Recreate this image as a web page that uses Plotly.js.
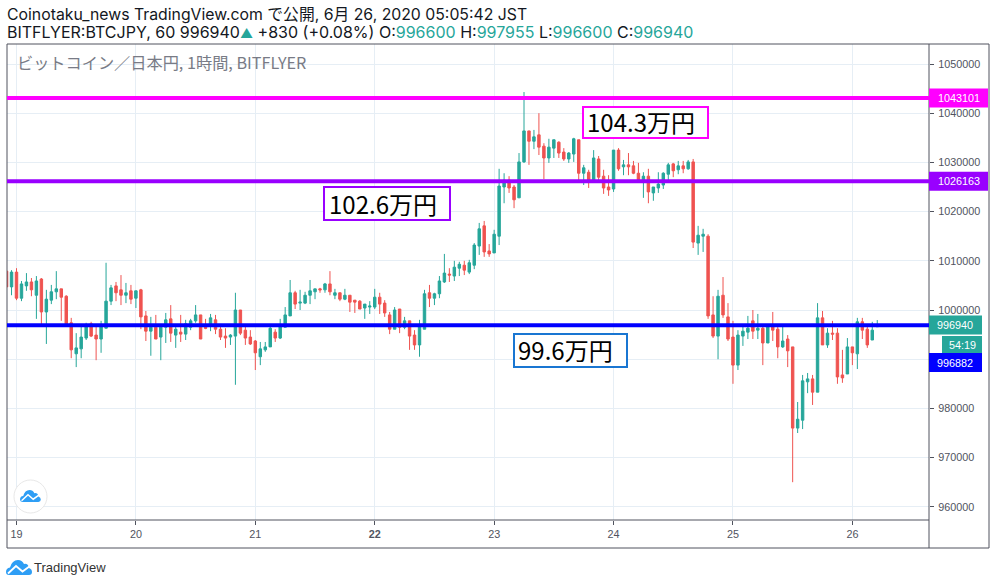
<!DOCTYPE html>
<html><head><meta charset="utf-8">
<script src="https://cdn.plot.ly/plotly-3.0.1.min.js"></script>
<style>html,body{margin:0;padding:0;background:#fff}#c{width:996px;height:586px}</style>
</head><body><div id="c"></div>
<script>
// Hourly candles, first candle is 22:00 the evening before the 19th
const opens = [1007900,1004700,1007700,1002400,1004900,1005700,1003000,1006300,999600,1002000,1003700,1004300,1002800,997400,991100,992100,994300,997200,994900,994100,996300,1001800,1004900,1004100,1003000,1003900,1002400,1004100,998800,995700,996500,994500,996500,998200,994900,995500,995100,996500,997800,999000,996500,997000,998000,996100,994700,994500,994700,1000000,995900,994500,993700,990500,991900,992500,995500,994300,996500,998800,1003500,1001400,1001400,1003000,1003700,1004300,1004100,1005300,1003000,1003500,1002200,1003000,1002000,1001800,1000400,1000600,1000600,1002600,1001400,999000,996100,1000200,996500,997800,994900,992900,996100,1003500,1002400,1003300,1005700,1007300,1006900,1008500,1009100,1007700,1009100,1013000,1017100,1012000,1011600,1015000,1025000,1026400,1025000,1022800,1030100,1036400,1034300,1035600,1033300,1030900,1032900,1034100,1032100,1030700,1031700,1034600,1027800,1028000,1026400,1030700,1027200,1025000,1024600,1032500,1029100,1029500,1029300,1027800,1026400,1027200,1023800,1024800,1025400,1027600,1029700,1028500,1029300,1028700,1030100,1013600,1015000,1015000,999000,994700,1003000,998600,994500,988800,994700,995500,997800,995900,996300,993300,996700,996100,992500,994100,992500,976000,977600,985400,986000,983300,998400,992900,995300,995300,986800,987000,992500,991100,997600,996100,993900,996600];
const highs = [1007900,1008100,1008500,1005900,1007500,1006500,1006900,1006500,1004100,1005100,1007900,1004300,1003000,998400,995300,997000,997400,997600,997000,997800,1009600,1005100,1005700,1007100,1005500,1005100,1003900,1004300,999800,998600,999000,997000,999400,1001000,997000,999000,998000,998200,1001000,999000,998200,999200,999000,997000,996300,995100,1003500,1000000,997000,995900,993900,993500,993500,996700,996100,998200,1000600,1006100,1003900,1004100,1003700,1006100,1004300,1004500,1005500,1007900,1004300,1003500,1004300,1003000,1002000,1002000,1001200,1001800,1004300,1003500,1002000,999600,1000600,1000200,998600,997800,995900,998000,1004100,1005100,1003500,1006900,1011400,1008500,1010000,1009800,1010000,1010200,1013600,1017700,1018100,1013400,1016300,1028700,1027800,1027200,1025400,1031900,1044300,1036400,1036600,1040000,1033900,1034800,1034600,1034300,1032900,1032100,1035000,1034600,1029500,1028500,1032500,1031300,1028500,1027400,1032500,1032900,1030500,1031900,1030300,1029900,1028000,1028700,1025000,1028000,1028000,1029900,1029900,1030300,1030300,1030500,1030700,1017100,1016500,1015400,1002800,1004100,1006700,1001400,997800,995900,996700,998800,1000000,999200,997000,997000,999600,997000,996700,994900,992500,981300,986800,987200,986800,1001400,999800,996300,997800,996300,991900,994300,992500,998400,998400,997000,997600,997955];
const lows = [1004700,1003000,1002000,1001800,1003900,1002800,998200,997000,993100,1001200,1002200,997800,997000,990200,988400,990200,993900,994500,989800,991300,996300,1001000,1001800,1001000,1001400,1001200,1000400,996100,993700,990700,994100,989800,993300,993500,992300,993500,993900,995900,997400,994100,996100,995700,995100,993900,992300,992900,984800,994900,992900,992900,987800,988800,991500,992500,993500,994100,996500,998800,1000200,1000000,1001200,1001200,1002200,1003500,1003500,1003000,1002200,1001800,1002000,999600,999400,1000200,998200,999200,1000200,999200,998600,995100,996100,995300,996100,991900,991900,990500,996100,1000600,1001000,1002400,1005500,1005700,1005900,1006900,1007100,1007300,1008300,1011200,1010800,1010800,1011600,1013200,1021700,1023800,1020700,1022800,1029900,1029500,1032700,1031500,1026600,1029900,1030900,1030900,1030300,1029900,1030100,1026400,1025400,1024800,1026400,1026400,1023600,1023200,1024000,1028300,1027400,1027400,1027600,1026000,1022800,1021700,1022200,1023800,1024600,1026400,1027000,1027600,1027800,1028500,1012600,1011200,1011800,998200,994300,990000,998400,993700,985000,987800,992700,994100,994100,994100,988800,993300,993700,990200,992300,988400,965000,975000,975800,983100,980700,983300,992900,992300,993900,985000,985200,987000,988800,988000,994100,992300,993900,996600];
const closes = [1004700,1007700,1002400,1005300,1005700,1004100,1005900,999600,1002200,1003700,1004300,1002600,997000,991900,992300,994500,996700,994700,994100,997000,1001800,1004500,1003500,1003000,1003500,1002200,1003900,998600,995700,996500,994100,996500,998000,995300,996100,995100,997200,997800,999000,994100,996300,998400,996100,994500,994300,994900,1000000,995300,994300,993100,991300,992100,992500,996300,994300,997000,999000,1003500,1001200,1001600,1003000,1003900,1004300,1004100,1005300,1003700,1003500,1002200,1003000,1001600,1001600,1000200,1001200,1000800,1002600,1001200,999400,996100,1000000,996500,997800,994700,992900,997000,1003300,1002400,1003300,1005900,1007500,1007100,1008700,1009300,1008100,1009600,1013200,1016500,1011800,1011400,1015400,1025200,1026400,1024800,1022400,1030100,1036400,1034300,1035200,1033100,1030900,1033100,1034600,1031900,1030700,1031900,1034800,1027800,1028900,1026400,1030900,1027000,1024800,1024400,1032500,1028700,1029500,1029100,1027800,1026400,1027200,1024000,1025000,1025600,1027800,1029500,1028300,1029300,1028700,1030100,1013800,1015200,1015400,998800,994700,1002800,999000,994100,988800,994900,995700,996300,995700,996300,993300,997000,995900,992500,993700,991700,976000,977800,985600,986000,983300,998400,992900,995300,995100,986400,986200,992500,991300,997600,995900,992900,995900,996940];

const dayLabels = ['19','20','21','<b>22</b>','23','24','25','26'];
const dayHours = [0,24,48,72,96,120,144,168];
const priceTicks = [960000,970000,980000,990000,1000000,1010000,1020000,1030000,1040000,1050000];
const levels = [1043101,1026163,996882];
const levelColors = ['#ff00ff','#9900ff','#0000ff'];
const headerLine1 = 'Coinotaku_news TradingView.com で公開, 6月 26, 2020 05:05:42 JST';
const symbolLine = 'BITFLYER:BTCJPY, 60 996940';
const changeText = '+830 (+0.08%)';
const ohlcNames = ['O','H','L','C'];
const ohlcValues = ['996600','997955','996600','996940'];
const lastPrice = 996940;
const countdown = '54:19';
const callouts = [
  {text:'104.3万円', color:'#ff00ff'},
  {text:'102.6万円', color:'#9900ff'},
  {text:'99.6万円',  color:'#1976d2'}
];

const hours = opens.map((_, i) => i - 2);

const W=996,H=586,L=7,R=929,T=44,B=520;
const UP='#26a69a',DOWN='#ef5350',FRAME='#50535e',GRID='#e6eef5';
const px=x=>(x-L)/(R-L), py=y=>(B-y)/(B-T);
const box=(x0,y0,x1,y1,fill,line,lw)=>({type:'rect',xref:'paper',yref:'paper',x0:px(x0),x1:px(x1),y0:py(y0),y1:py(y1),fillcolor:fill||'rgba(0,0,0,0)',line:{color:line||'rgba(0,0,0,0)',width:lw||0}});
const seg=(x0,y0,x1,y1,c,w)=>({type:'line',xref:'paper',yref:'paper',x0:px(x0),x1:px(x1),y0:py(y0),y1:py(y1),line:{color:c,width:w}});
const valueTag=(v,x1,c)=>({type:'rect',xref:'paper',yref:'y',ysizemode:'pixel',yanchor:v,y0:-9.5,y1:9.5,x0:px(R),x1:px(x1),fillcolor:c,line:{width:0}});
function cloud(ox,oy,s){
  const P=(x,y)=>px(ox+x*s)+' '+py(oy+y*s);
  const body='M'+P(0,12)+'Q'+P(0,8)+' '+P(4,7.5)+'Q'+P(6,0)+' '+P(12,0)+'Q'+P(16,0)+' '+P(18,4)+'Q'+P(22,3)+' '+P(23,8)+'Q'+P(26,9)+' '+P(26,12)+'Q'+P(26,15)+' '+P(23,15)+'L'+P(3,15)+'Q'+P(0,15)+' '+P(0,12)+'Z';
  const zig='M'+P(2,13.5)+'L'+P(10,6)+'L'+P(16.5,11.5)+'L'+P(24,6);
  return [
    {type:'path',xref:'paper',yref:'paper',path:body,fillcolor:'#2e9ef5',line:{width:0}},
    {type:'path',xref:'paper',yref:'paper',path:zig,line:{color:'#fff',width:1.6*s+0.2}}
  ];
}
const shapes=[
  seg(L,B,R,B,FRAME,1), seg(R,T,R,548,FRAME,1),
  box(L,T,989,548,null,FRAME,1),
  {type:'circle',xref:'paper',yref:'paper',x0:px(14),x1:px(47),y0:py(480),y1:py(513),fillcolor:'#fff',line:{color:'#e8e8e8',width:1}},
  ...cloud(20,490,0.8), ...cloud(6,560,1)
];
levels.forEach((v,i)=>shapes.push({type:'line',xref:'paper',yref:'y',x0:0,x1:1,y0:v,y1:v,line:{color:levelColors[i],width:4}}));
shapes.push(valueTag(levels[0],988,levelColors[0]),valueTag(levels[1],988,levelColors[1]),valueTag(lastPrice,982,UP));
shapes.push(box(942,336,982,353,UP),box(R,353,982,372,levelColors[2]));
const calloutBoxes=[[583,107,708,138],[324,187,450,220],[514,334,627,367]];
callouts.forEach((c,i)=>{const b=calloutBoxes[i];shapes.push(box(b[0],b[1],b[2],b[3],'#fff',c.color,2));});

const txt=(x,y,t,size,color,anchor,font)=>({xref:'paper',yref:'paper',x:px(x),y:py(y),text:t,showarrow:false,xanchor:anchor||'left',yanchor:'middle',align:'left',font:{size:size,color:color||'#131722',family:font||'Inter,"Noto Sans CJK JP",sans-serif'},borderpad:0,borderwidth:0});
const ARIAL='"Liberation Sans",Arial,sans-serif';
const CJK='"Noto Sans CJK JP","Noto Sans",sans-serif';
const ohlcHtml=ohlcNames.map((n,i)=>n+':<span style="color:'+UP+'">'+ohlcValues[i]+'</span>').join(' ');
const annotations=[
  txt(7,15,headerLine1,15.8),
  txt(7,32,symbolLine+'<span style="color:'+UP+';font-size:13px">▲</span> '+changeText+' '+ohlcHtml,16),
  txt(17,62,'ビットコイン／日本円, 1時間, BITFLYER',16.2,'#787b86',null,CJK),
  txt(958.5,98,String(levels[0]),10.8,'#fff','center',ARIAL),
  txt(958.5,181,String(levels[1]),10.8,'#fff','center',ARIAL),
  txt(955.5,325,String(lastPrice),10.8,'#fff','center',ARIAL),
  txt(962,344.5,countdown,10.8,'#fff','center',ARIAL),
  txt(955.5,362.5,String(levels[2]),10.8,'#fff','center',ARIAL),
  txt(34,567,'TradingView',13,'#333','left',ARIAL),
  txt(587,122,callouts[0].text,24,'#000','left',CJK),
  txt(329,203,callouts[1].text,24,'#000','left',CJK),
  txt(518,350,callouts[2].text,24,'#000','left',CJK)
];

const trace={type:'candlestick',x:hours,open:opens,high:highs,low:lows,close:closes,whiskerwidth:0,
  increasing:{line:{color:UP,width:1},fillcolor:UP},decreasing:{line:{color:DOWN,width:1},fillcolor:DOWN},hoverinfo:'none',showlegend:false};
const layout={width:W,height:H,margin:{l:L,r:W-R,t:T,b:H-B,pad:0},paper_bgcolor:'#fff',plot_bgcolor:'#fff',showlegend:false,
  xaxis:{type:'linear',range:[-1.91,183.4],rangeslider:{visible:false},tickmode:'array',tickvals:dayHours,ticktext:dayLabels,
    showgrid:true,gridcolor:GRID,gridwidth:1,zeroline:false,showline:false,ticks:'outside',ticklen:4,tickwidth:1,tickcolor:FRAME,
    tickfont:{family:ARIAL,size:10.8,color:FRAME}},
  yaxis:{type:'linear',side:'right',range:[957318,1054065],tickmode:'array',tickvals:priceTicks,ticktext:priceTicks.map(String),
    showgrid:true,gridcolor:GRID,gridwidth:1,zeroline:false,showline:false,ticks:'outside',ticklen:4,tickwidth:1,tickcolor:FRAME,ticklabelstandoff:2,
    tickfont:{family:ARIAL,size:10.8,color:FRAME}},
  shapes,annotations,dragmode:false};
Plotly.newPlot('c',[trace],layout,{staticPlot:true,displayModeBar:false});
</script></body></html>
